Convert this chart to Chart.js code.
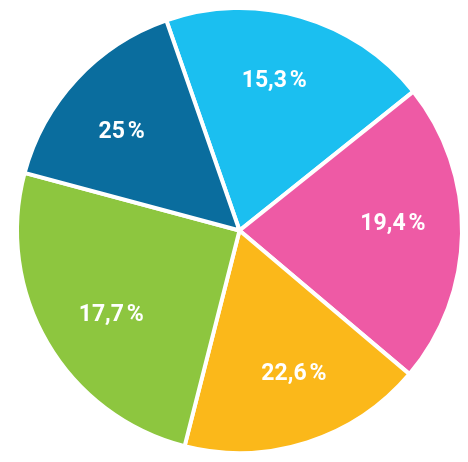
<!DOCTYPE html>
<html>
<head>
<meta charset="utf-8">
<script src="https://cdn.jsdelivr.net/npm/chart.js@4/dist/chart.umd.min.js"></script>
<style>
  html, body { margin: 0; padding: 0; background: #ffffff; }
  #wrap { width: 468px; height: 462px; }
</style>
</head>
<body>
<div id="wrap"><canvas id="c" width="468" height="462"></canvas></div>
<script>
// Slice sizes as drawn (clockwise from the top-left boundary)
const categories = ["Hellblau", "Rosa", "Gelb", "Grün", "Dunkelblau"];
const sliceValues = [19.6, 21.9, 17.8, 25.2, 15.5];
// Text labels as printed on each slice
const sliceLabels = ["15,3\u202F%", "19,4\u202F%", "22,6\u202F%", "17,7\u202F%", "25\u202F%"];
const sliceColors = ["#1bbff0", "#ee5aa5", "#fbb81a", "#8dc63f", "#0a6d9e"];

const labelPlugin = {
  id: 'sliceLabels',
  afterDatasetsDraw(chart) {
    const ctx = chart.ctx;
    const meta = chart.getDatasetMeta(0);
    ctx.save();
    ctx.fillStyle = '#ffffff';
    ctx.font = 'bold 23px Roboto';
    ctx.textAlign = 'center';
    ctx.textBaseline = 'middle';
    meta.data.forEach((arc, i) => {
      const p = arc.getProps(['x', 'y', 'startAngle', 'endAngle', 'outerRadius'], true);
      const mid = (p.startAngle + p.endAngle) / 2 - 3 * Math.PI / 180;
      const r = p.outerRadius * 0.69;
      ctx.fillText(sliceLabels[i], p.x + Math.cos(mid) * r, p.y + Math.sin(mid) * r);
    });
    ctx.restore();
  }
};

new Chart(document.getElementById('c'), {
  type: 'pie',
  data: {
    labels: categories,
    datasets: [{
      data: sliceValues,
      backgroundColor: sliceColors,
      borderColor: '#ffffff',
      borderWidth: 4,
      hoverOffset: 0
    }]
  },
  options: {
    responsive: false,
    animation: false,
    rotation: -19.2,
    layout: { padding: { left: 15, right: 4, top: 6, bottom: 7 } },
    plugins: {
      legend: { display: false },
      tooltip: { enabled: false }
    }
  },
  plugins: [labelPlugin]
});
</script>
</body>
</html>
